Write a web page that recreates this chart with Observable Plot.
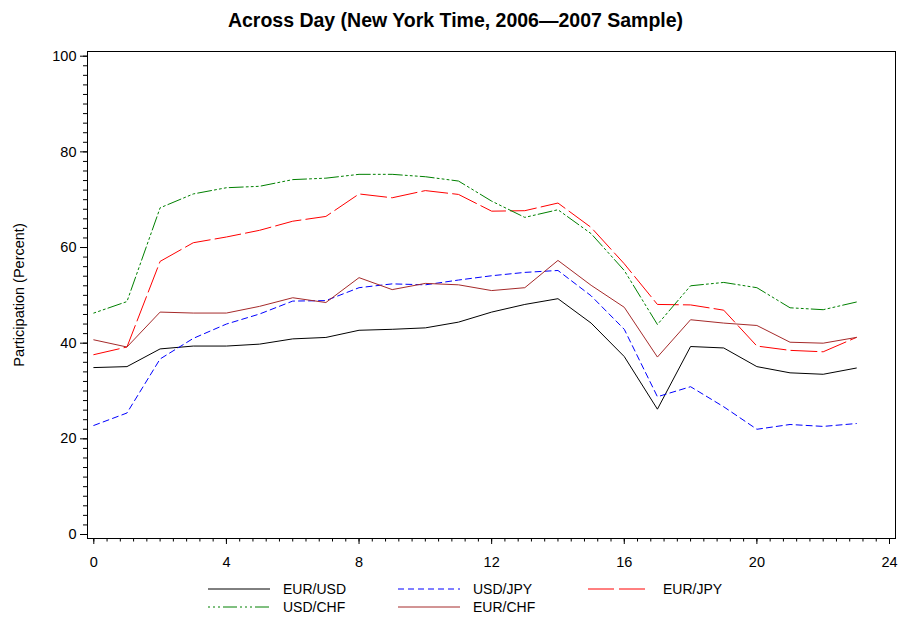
<!DOCTYPE html>
<html>
<head>
<meta charset="utf-8">
<script src="https://cdn.jsdelivr.net/npm/d3@7"></script>
<script src="https://cdn.jsdelivr.net/npm/@observablehq/plot@0.6"></script>
<style>
  html, body { margin: 0; padding: 0; background: #fff; }
  body { width: 903px; height: 624px; position: relative; overflow: hidden; font-family: "Liberation Sans", Arial, sans-serif; }
  #title { position: absolute; left: 4px; top: 0; width: 903px; height: 40px; text-align: center; font-weight: bold; font-size: 19.5px; line-height: 40px; color: #000; }
  #chart { position: absolute; left: 0; top: 40px; }
  #legend { position: absolute; left: 0; top: 578px; width: 903px; height: 46px; }
  .item { position: absolute; height: 18px; display: flex; align-items: center; font-size: 14px; color: #000; }
  .item svg { margin-right: 13px; }
</style>
</head>
<body>
<div id="title">Across Day (New York Time, 2006—2007 Sample)</div>
<div id="chart"></div>
<div id="legend"></div>
<script>
// ---- data ----
const hours = [0,1,2,3,4,5,6,7,8,9,10,11,12,13,14,15,16,17,18,19,20,21,22,23];
const eurUsd = [34.9,35.1,38.8,39.4,39.4,39.8,40.9,41.2,42.7,42.9,43.2,44.4,46.5,48.1,49.3,44.2,37.2,26.2,39.3,39.0,35.1,33.8,33.5,34.8];
const usdJpy = [22.8,25.4,36.7,41.0,44.0,46.1,48.8,48.9,51.6,52.4,52.2,53.2,54.1,54.8,55.2,49.9,42.9,28.8,30.9,26.7,22.0,23.0,22.6,23.2];
const eurJpy = [37.6,39.2,57.1,61.0,62.2,63.6,65.5,66.5,71.2,70.4,71.9,71.1,67.6,67.7,69.3,64.2,56.6,48.1,48.0,46.9,39.4,38.5,38.2,41.2];
const usdChf = [46.3,48.7,68.3,71.2,72.5,72.8,74.2,74.5,75.3,75.3,74.8,73.9,69.7,66.3,67.9,62.9,55.2,43.9,52.0,52.7,51.6,47.4,47.0,48.6];
const eurChf = [40.7,39.2,46.5,46.3,46.3,47.7,49.5,48.5,53.7,51.2,52.5,52.2,51.0,51.6,57.3,52.1,47.5,37.1,44.9,44.2,43.7,40.2,40.0,41.2];

const seriesNames = ["EUR/USD","USD/JPY","EUR/JPY","USD/CHF","EUR/CHF"];
const seriesValues = [eurUsd, usdJpy, eurJpy, usdChf, eurChf];
const seriesColors = ["#000000","#0000ff","#ff0000","#008000","#a52a2a"];
const seriesDash = [null, "6,4", "26,5", "2,3,2,3,2,3,14,3", null];

const xMajorTicks = [0,4,8,12,16,20,24];
const yMajorTicks = [0,20,40,60,80,100];
const xMinorTicks = d3.range(0, 24.001, 0.4);
const yMinorTicks = d3.range(0, 100.001, 2);

const tables = seriesValues.map((vals, i) =>
  hours.map((h, j) => ({hour: h, value: vals[j], series: seriesNames[i]})));

const lineMarks = tables.map((t, i) => Plot.line(t, {
  x: "hour", y: "value",
  stroke: seriesColors[i], strokeWidth: 1,
  strokeDasharray: seriesDash[i] || undefined
}));

const chart = Plot.plot({
  width: 903,
  height: 535,
  marginTop: 11,
  marginBottom: 37,
  marginLeft: 87,
  marginRight: 8,
  style: {fontFamily: "'Liberation Sans', Arial, sans-serif", fontSize: "14px", color: "#000", background: "#fff"},
  x: {domain: [0, 24], insetLeft: 6.3, insetRight: 6},
  y: {domain: [0, 100], insetTop: 4.7, insetBottom: 4},
  marks: [
    Plot.axisX({ticks: xMinorTicks, tickSize: 3.5, text: null, label: null}),
    Plot.axisX({ticks: xMajorTicks, tickSize: 6, tickPadding: 12, tickFormat: d => String(d), label: null, fontSize: 14.5}),
    Plot.axisY({ticks: yMinorTicks, tickSize: 4, text: null, label: null}),
    Plot.axisY({ticks: yMajorTicks, tickSize: 7, tickPadding: 4, tickFormat: d => String(d),
      label: "Participation (Percent)", labelAnchor: "center", labelArrow: "none", labelOffset: 74, fontSize: 14.5}),
    ...lineMarks,
    Plot.frame({stroke: "#000", strokeWidth: 1})
  ]
});
document.getElementById("chart").appendChild(chart);

// ---- legend ----
const legend = d3.select("#legend");
const colX = [208, 398, 588];
seriesNames.forEach((name, i) => {
  const col = i % 3, row = Math.floor(i / 3);
  const item = legend.append("div").attr("class", "item")
    .style("left", colX[col] + "px").style("top", (row * 18 + 2) + "px");
  const s = item.append("svg").attr("width", 62).attr("height", 10);
  s.append("line").attr("x1", 0).attr("x2", 62).attr("y1", 5).attr("y2", 5)
    .attr("stroke", seriesColors[i]).attr("stroke-width", 1)
    .attr("stroke-dasharray", seriesDash[i]);
  item.append("span").text(name);
});
</script>
</body>
</html>
